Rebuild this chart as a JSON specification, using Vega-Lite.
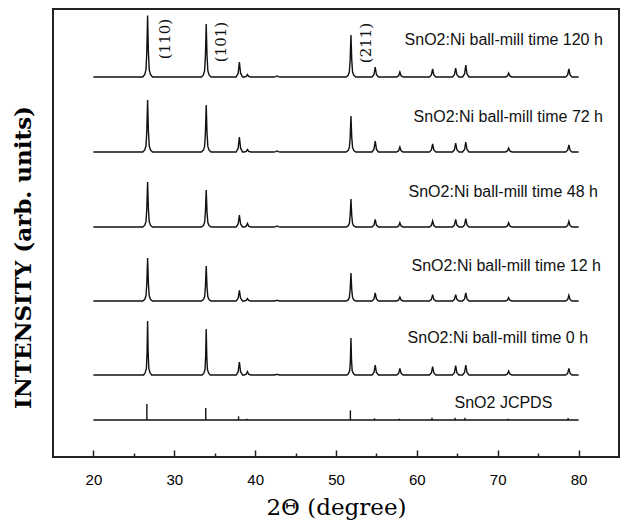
{
  "$schema": "https://vega.github.io/schema/vega-lite/v6.json",
  "autosize": {"type": "none"},
  "padding": {"left": 53, "top": 9, "right": 4, "bottom": 67},
  "width": 566,
  "height": 448,
  "background": "white",
  "config": {"view": {"stroke": "#222", "strokeWidth": 2}},
  "datasets": {
    "xrd": [
      {"s":"120","x":20,"y":380},
      {"s":"120","x":26.1,"y":380},{"s":"120","x":26.35,"y":382.5},{"s":"120","x":26.5,"y":387.4},{"s":"120","x":26.6,"y":404.6},{"s":"120","x":26.7,"y":441.5},{"s":"120","x":26.8,"y":404.6},{"s":"120","x":26.9,"y":387.4},{"s":"120","x":27.05,"y":382.5},{"s":"120","x":27.3,"y":380},
      {"s":"120","x":33.35,"y":380},{"s":"120","x":33.6,"y":382.1},{"s":"120","x":33.75,"y":386.4},{"s":"120","x":33.85,"y":401.2},{"s":"120","x":33.95,"y":433},{"s":"120","x":34.05,"y":401.2},{"s":"120","x":34.15,"y":386.4},{"s":"120","x":34.3,"y":382.1},{"s":"120","x":34.55,"y":380},
      {"s":"120","x":37.65,"y":380},{"s":"120","x":37.9,"y":383.8},{"s":"120","x":38.05,"y":395},{"s":"120","x":38.2,"y":383.8},{"s":"120","x":38.45,"y":380},
      {"s":"120","x":38.65,"y":380},{"s":"120","x":38.9,"y":380.6},{"s":"120","x":39.05,"y":382.5},{"s":"120","x":39.2,"y":380.6},{"s":"120","x":39.45,"y":380},
      {"s":"120","x":42.3,"y":380},{"s":"120","x":42.55,"y":380.3},{"s":"120","x":42.7,"y":381},{"s":"120","x":42.85,"y":380.3},{"s":"120","x":43.1,"y":380},
      {"s":"120","x":51.25,"y":380},{"s":"120","x":51.5,"y":381.7},{"s":"120","x":51.65,"y":385},{"s":"120","x":51.75,"y":396.8},{"s":"120","x":51.85,"y":422},{"s":"120","x":51.95,"y":396.8},{"s":"120","x":52.05,"y":385},{"s":"120","x":52.2,"y":381.7},{"s":"120","x":52.45,"y":380},
      {"s":"120","x":54.45,"y":380},{"s":"120","x":54.7,"y":382.5},{"s":"120","x":54.85,"y":390},{"s":"120","x":55.0,"y":382.5},{"s":"120","x":55.25,"y":380},
      {"s":"120","x":57.5,"y":380},{"s":"120","x":57.75,"y":381.3},{"s":"120","x":57.9,"y":385},{"s":"120","x":58.05,"y":381.3},{"s":"120","x":58.3,"y":380},
      {"s":"120","x":61.55,"y":380},{"s":"120","x":61.8,"y":382},{"s":"120","x":61.95,"y":388},{"s":"120","x":62.1,"y":382},{"s":"120","x":62.35,"y":380},
      {"s":"120","x":64.4,"y":380},{"s":"120","x":64.65,"y":382.3},{"s":"120","x":64.8,"y":389},{"s":"120","x":64.95,"y":382.3},{"s":"120","x":65.2,"y":380},
      {"s":"120","x":65.65,"y":380},{"s":"120","x":65.9,"y":383},{"s":"120","x":66.05,"y":392},{"s":"120","x":66.2,"y":383},{"s":"120","x":66.45,"y":380},
      {"s":"120","x":70.95,"y":380},{"s":"120","x":71.2,"y":381},{"s":"120","x":71.35,"y":384},{"s":"120","x":71.5,"y":381},{"s":"120","x":71.75,"y":380},
      {"s":"120","x":78.4,"y":380},{"s":"120","x":78.65,"y":382},{"s":"120","x":78.8,"y":388},{"s":"120","x":78.95,"y":382},{"s":"120","x":79.2,"y":380},
      {"s":"120","x":80,"y":380},

      {"s":"72","x":20,"y":305},
      {"s":"72","x":26.1,"y":305},{"s":"72","x":26.35,"y":307.1},{"s":"72","x":26.5,"y":311.2},{"s":"72","x":26.6,"y":325.8},{"s":"72","x":26.7,"y":357},{"s":"72","x":26.8,"y":325.8},{"s":"72","x":26.9,"y":311.2},{"s":"72","x":27.05,"y":307.1},{"s":"72","x":27.3,"y":305},
      {"s":"72","x":33.35,"y":305},{"s":"72","x":33.6,"y":306.9},{"s":"72","x":33.75,"y":310.6},{"s":"72","x":33.85,"y":323.8},{"s":"72","x":33.95,"y":352},{"s":"72","x":34.05,"y":323.8},{"s":"72","x":34.15,"y":310.6},{"s":"72","x":34.3,"y":306.9},{"s":"72","x":34.55,"y":305},
      {"s":"72","x":37.65,"y":305},{"s":"72","x":37.9,"y":308.8},{"s":"72","x":38.05,"y":320},{"s":"72","x":38.2,"y":308.8},{"s":"72","x":38.45,"y":305},
      {"s":"72","x":38.65,"y":305},{"s":"72","x":38.9,"y":305.6},{"s":"72","x":39.05,"y":307.5},{"s":"72","x":39.2,"y":305.6},{"s":"72","x":39.45,"y":305},
      {"s":"72","x":42.3,"y":305},{"s":"72","x":42.55,"y":305.3},{"s":"72","x":42.7,"y":306},{"s":"72","x":42.85,"y":305.3},{"s":"72","x":43.1,"y":305},
      {"s":"72","x":51.25,"y":305},{"s":"72","x":51.5,"y":306.4},{"s":"72","x":51.65,"y":309.3},{"s":"72","x":51.75,"y":319.4},{"s":"72","x":51.85,"y":341},{"s":"72","x":51.95,"y":319.4},{"s":"72","x":52.05,"y":309.3},{"s":"72","x":52.2,"y":306.4},{"s":"72","x":52.45,"y":305},
      {"s":"72","x":54.45,"y":305},{"s":"72","x":54.7,"y":307.8},{"s":"72","x":54.85,"y":316},{"s":"72","x":55.0,"y":307.8},{"s":"72","x":55.25,"y":305},
      {"s":"72","x":57.5,"y":305},{"s":"72","x":57.75,"y":306.3},{"s":"72","x":57.9,"y":310},{"s":"72","x":58.05,"y":306.3},{"s":"72","x":58.3,"y":305},
      {"s":"72","x":61.55,"y":305},{"s":"72","x":61.8,"y":307},{"s":"72","x":61.95,"y":313},{"s":"72","x":62.1,"y":307},{"s":"72","x":62.35,"y":305},
      {"s":"72","x":64.4,"y":305},{"s":"72","x":64.65,"y":307.3},{"s":"72","x":64.8,"y":314},{"s":"72","x":64.95,"y":307.3},{"s":"72","x":65.2,"y":305},
      {"s":"72","x":65.65,"y":305},{"s":"72","x":65.9,"y":307.5},{"s":"72","x":66.05,"y":315},{"s":"72","x":66.2,"y":307.5},{"s":"72","x":66.45,"y":305},
      {"s":"72","x":70.95,"y":305},{"s":"72","x":71.2,"y":306},{"s":"72","x":71.35,"y":309},{"s":"72","x":71.5,"y":306},{"s":"72","x":71.75,"y":305},
      {"s":"72","x":78.4,"y":305},{"s":"72","x":78.65,"y":306.8},{"s":"72","x":78.8,"y":312},{"s":"72","x":78.95,"y":306.8},{"s":"72","x":79.2,"y":305},
      {"s":"72","x":80,"y":305},

      {"s":"48","x":20,"y":230},
      {"s":"48","x":26.1,"y":230},{"s":"48","x":26.35,"y":231.8},{"s":"48","x":26.5,"y":235.4},{"s":"48","x":26.6,"y":248},{"s":"48","x":26.7,"y":275},{"s":"48","x":26.8,"y":248},{"s":"48","x":26.9,"y":235.4},{"s":"48","x":27.05,"y":231.8},{"s":"48","x":27.3,"y":230},
      {"s":"48","x":33.35,"y":230},{"s":"48","x":33.6,"y":231.5},{"s":"48","x":33.75,"y":234.4},{"s":"48","x":33.85,"y":244.8},{"s":"48","x":33.95,"y":267},{"s":"48","x":34.05,"y":244.8},{"s":"48","x":34.15,"y":234.4},{"s":"48","x":34.3,"y":231.5},{"s":"48","x":34.55,"y":230},
      {"s":"48","x":37.65,"y":230},{"s":"48","x":37.9,"y":233},{"s":"48","x":38.05,"y":242},{"s":"48","x":38.2,"y":233},{"s":"48","x":38.45,"y":230},
      {"s":"48","x":38.65,"y":230},{"s":"48","x":38.9,"y":230.9},{"s":"48","x":39.05,"y":233.5},{"s":"48","x":39.2,"y":230.9},{"s":"48","x":39.45,"y":230},
      {"s":"48","x":42.3,"y":230},{"s":"48","x":42.55,"y":230.3},{"s":"48","x":42.7,"y":231},{"s":"48","x":42.85,"y":230.3},{"s":"48","x":43.1,"y":230},
      {"s":"48","x":51.25,"y":230},{"s":"48","x":51.5,"y":231.1},{"s":"48","x":51.65,"y":233.4},{"s":"48","x":51.75,"y":241.2},{"s":"48","x":51.85,"y":258},{"s":"48","x":51.95,"y":241.2},{"s":"48","x":52.05,"y":233.4},{"s":"48","x":52.2,"y":231.1},{"s":"48","x":52.45,"y":230},
      {"s":"48","x":54.45,"y":230},{"s":"48","x":54.7,"y":231.9},{"s":"48","x":54.85,"y":237.7},{"s":"48","x":55.0,"y":231.9},{"s":"48","x":55.25,"y":230},
      {"s":"48","x":57.5,"y":230},{"s":"48","x":57.75,"y":231.1},{"s":"48","x":57.9,"y":234.3},{"s":"48","x":58.05,"y":231.1},{"s":"48","x":58.3,"y":230},
      {"s":"48","x":61.55,"y":230},{"s":"48","x":61.8,"y":231.5},{"s":"48","x":61.95,"y":236},{"s":"48","x":62.1,"y":231.5},{"s":"48","x":62.35,"y":230},
      {"s":"48","x":64.4,"y":230},{"s":"48","x":64.65,"y":231.9},{"s":"48","x":64.8,"y":237.7},{"s":"48","x":64.95,"y":231.9},{"s":"48","x":65.2,"y":230},
      {"s":"48","x":65.65,"y":230},{"s":"48","x":65.9,"y":232.1},{"s":"48","x":66.05,"y":238.3},{"s":"48","x":66.2,"y":232.1},{"s":"48","x":66.45,"y":230},
      {"s":"48","x":70.95,"y":230},{"s":"48","x":71.2,"y":231.1},{"s":"48","x":71.35,"y":234.3},{"s":"48","x":71.5,"y":231.1},{"s":"48","x":71.75,"y":230},
      {"s":"48","x":78.4,"y":230},{"s":"48","x":78.65,"y":231.4},{"s":"48","x":78.8,"y":235.7},{"s":"48","x":78.95,"y":231.4},{"s":"48","x":79.2,"y":230},
      {"s":"48","x":80,"y":230},

      {"s":"12","x":20,"y":156},
      {"s":"12","x":26.1,"y":156},{"s":"12","x":26.35,"y":157.7},{"s":"12","x":26.5,"y":161.2},{"s":"12","x":26.6,"y":173.2},{"s":"12","x":26.7,"y":199},{"s":"12","x":26.8,"y":173.2},{"s":"12","x":26.9,"y":161.2},{"s":"12","x":27.05,"y":157.7},{"s":"12","x":27.3,"y":156},
      {"s":"12","x":33.35,"y":156},{"s":"12","x":33.6,"y":157.4},{"s":"12","x":33.75,"y":160.2},{"s":"12","x":33.85,"y":170},{"s":"12","x":33.95,"y":191},{"s":"12","x":34.05,"y":170},{"s":"12","x":34.15,"y":160.2},{"s":"12","x":34.3,"y":157.4},{"s":"12","x":34.55,"y":156},
      {"s":"12","x":37.65,"y":156},{"s":"12","x":37.9,"y":158.7},{"s":"12","x":38.05,"y":166.7},{"s":"12","x":38.2,"y":158.7},{"s":"12","x":38.45,"y":156},
      {"s":"12","x":38.65,"y":156},{"s":"12","x":38.9,"y":156.6},{"s":"12","x":39.05,"y":158.5},{"s":"12","x":39.2,"y":156.6},{"s":"12","x":39.45,"y":156},
      {"s":"12","x":42.3,"y":156},{"s":"12","x":42.55,"y":156.2},{"s":"12","x":42.7,"y":156.8},{"s":"12","x":42.85,"y":156.2},{"s":"12","x":43.1,"y":156},
      {"s":"12","x":51.25,"y":156},{"s":"12","x":51.5,"y":157.1},{"s":"12","x":51.65,"y":159.4},{"s":"12","x":51.75,"y":167.2},{"s":"12","x":51.85,"y":184},{"s":"12","x":51.95,"y":167.2},{"s":"12","x":52.05,"y":159.4},{"s":"12","x":52.2,"y":157.1},{"s":"12","x":52.45,"y":156},
      {"s":"12","x":54.45,"y":156},{"s":"12","x":54.7,"y":158},{"s":"12","x":54.85,"y":164},{"s":"12","x":55.0,"y":158},{"s":"12","x":55.25,"y":156},
      {"s":"12","x":57.5,"y":156},{"s":"12","x":57.75,"y":157},{"s":"12","x":57.9,"y":160},{"s":"12","x":58.05,"y":157},{"s":"12","x":58.3,"y":156},
      {"s":"12","x":61.55,"y":156},{"s":"12","x":61.8,"y":157.6},{"s":"12","x":61.95,"y":162.3},{"s":"12","x":62.1,"y":157.6},{"s":"12","x":62.35,"y":156},
      {"s":"12","x":64.4,"y":156},{"s":"12","x":64.65,"y":157.6},{"s":"12","x":64.8,"y":162.3},{"s":"12","x":64.95,"y":157.6},{"s":"12","x":65.2,"y":156},
      {"s":"12","x":65.65,"y":156},{"s":"12","x":65.9,"y":158},{"s":"12","x":66.05,"y":164},{"s":"12","x":66.2,"y":158},{"s":"12","x":66.45,"y":156},
      {"s":"12","x":70.95,"y":156},{"s":"12","x":71.2,"y":156.8},{"s":"12","x":71.35,"y":159.3},{"s":"12","x":71.5,"y":156.8},{"s":"12","x":71.75,"y":156},
      {"s":"12","x":78.4,"y":156},{"s":"12","x":78.65,"y":157.4},{"s":"12","x":78.8,"y":161.7},{"s":"12","x":78.95,"y":157.4},{"s":"12","x":79.2,"y":156},
      {"s":"12","x":80,"y":156},

      {"s":"0","x":20,"y":82},
      {"s":"0","x":26.2,"y":82},{"s":"0","x":26.4,"y":84.2},{"s":"0","x":26.55,"y":88.5},{"s":"0","x":26.63,"y":103.6},{"s":"0","x":26.7,"y":136},{"s":"0","x":26.77,"y":103.6},{"s":"0","x":26.85,"y":88.5},{"s":"0","x":27.0,"y":84.2},{"s":"0","x":27.2,"y":82},
      {"s":"0","x":33.45,"y":82},{"s":"0","x":33.65,"y":83.8},{"s":"0","x":33.8,"y":87.5},{"s":"0","x":33.88,"y":100.4},{"s":"0","x":33.95,"y":128},{"s":"0","x":34.02,"y":100.4},{"s":"0","x":34.1,"y":87.5},{"s":"0","x":34.25,"y":83.8},{"s":"0","x":34.45,"y":82},
      {"s":"0","x":37.65,"y":82},{"s":"0","x":37.9,"y":85.3},{"s":"0","x":38.05,"y":95},{"s":"0","x":38.2,"y":85.3},{"s":"0","x":38.45,"y":82},
      {"s":"0","x":38.65,"y":82},{"s":"0","x":38.9,"y":82.8},{"s":"0","x":39.05,"y":85.3},{"s":"0","x":39.2,"y":82.8},{"s":"0","x":39.45,"y":82},
      {"s":"0","x":42.3,"y":82},{"s":"0","x":42.55,"y":82.2},{"s":"0","x":42.7,"y":82.8},{"s":"0","x":42.85,"y":82.2},{"s":"0","x":43.1,"y":82},
      {"s":"0","x":51.35,"y":82},{"s":"0","x":51.55,"y":83.5},{"s":"0","x":51.7,"y":86.4},{"s":"0","x":51.78,"y":96.8},{"s":"0","x":51.85,"y":119},{"s":"0","x":51.92,"y":96.8},{"s":"0","x":52.0,"y":86.4},{"s":"0","x":52.15,"y":83.5},{"s":"0","x":52.35,"y":82},
      {"s":"0","x":54.45,"y":82},{"s":"0","x":54.7,"y":84.5},{"s":"0","x":54.85,"y":92},{"s":"0","x":55.0,"y":84.5},{"s":"0","x":55.25,"y":82},
      {"s":"0","x":57.5,"y":82},{"s":"0","x":57.75,"y":83.7},{"s":"0","x":57.9,"y":88.7},{"s":"0","x":58.05,"y":83.7},{"s":"0","x":58.3,"y":82},
      {"s":"0","x":61.55,"y":82},{"s":"0","x":61.8,"y":84.1},{"s":"0","x":61.95,"y":90.3},{"s":"0","x":62.1,"y":84.1},{"s":"0","x":62.35,"y":82},
      {"s":"0","x":64.4,"y":82},{"s":"0","x":64.65,"y":84.3},{"s":"0","x":64.8,"y":91.3},{"s":"0","x":64.95,"y":84.3},{"s":"0","x":65.2,"y":82},
      {"s":"0","x":65.65,"y":82},{"s":"0","x":65.9,"y":84.5},{"s":"0","x":66.05,"y":92},{"s":"0","x":66.2,"y":84.5},{"s":"0","x":66.45,"y":82},
      {"s":"0","x":70.95,"y":82},{"s":"0","x":71.2,"y":83},{"s":"0","x":71.35,"y":86},{"s":"0","x":71.5,"y":83},{"s":"0","x":71.75,"y":82},
      {"s":"0","x":78.4,"y":82},{"s":"0","x":78.65,"y":83.7},{"s":"0","x":78.8,"y":88.7},{"s":"0","x":78.95,"y":83.7},{"s":"0","x":79.2,"y":82},
      {"s":"0","x":80,"y":82}
    ],
    "jcpds": [
      {"x":20,"x2":80,"y":37,"y2":37},
      {"x":26.61,"x2":26.61,"y":37,"y2":53},
      {"x":33.89,"x2":33.89,"y":37,"y2":49},
      {"x":37.95,"x2":37.95,"y":37,"y2":40.7},
      {"x":38.97,"x2":38.97,"y":37,"y2":38.3},
      {"x":51.78,"x2":51.78,"y":37,"y2":46.7},
      {"x":54.76,"x2":54.76,"y":37,"y2":38.7},
      {"x":57.82,"x2":57.82,"y":37,"y2":38.3},
      {"x":61.87,"x2":61.87,"y":37,"y2":39.3},
      {"x":64.72,"x2":64.72,"y":37,"y2":39.3},
      {"x":65.94,"x2":65.94,"y":37,"y2":39.3},
      {"x":71.28,"x2":71.28,"y":37,"y2":38.3},
      {"x":78.71,"x2":78.71,"y":37,"y2":39}
    ],
    "labels": [
      {"x":58.48,"y":417,"t":"SnO2:Ni ball-mill time 120 h"},
      {"x":59.6,"y":340,"t":"SnO2:Ni ball-mill time 72 h"},
      {"x":58.97,"y":265,"t":"SnO2:Ni ball-mill time 48 h"},
      {"x":59.34,"y":191,"t":"SnO2:Ni ball-mill time 12 h"},
      {"x":58.85,"y":119,"t":"SnO2:Ni ball-mill time 0 h"},
      {"x":64.66,"y":54,"t":"SnO2 JCPDS"}
    ],
    "hkl": [
      {"x":28.9,"y":418,"t":"(110)"},
      {"x":35.8,"y":415,"t":"(101)"},
      {"x":53.75,"y":414,"t":"(211)"}
    ]
  },
  "encoding": {
    "x": {
      "field": "x", "type": "quantitative",
      "scale": {"domain": [15, 85], "nice": false, "zero": false},
      "axis": {
        "title": "2Θ (degree)",
        "titleFont": "DejaVu Serif", "titleFontSize": 23, "titleFontWeight": "normal", "titleColor": "black",
        "titleY": 57, "titleBaseline": "alphabetic",
        "values": [20,25,30,35,40,45,50,55,60,65,70,75,80],
        "labelExpr": "datum.value % 10 === 0 ? datum.label : ''",
        "labelFont": "Liberation Sans", "labelFontSize": 15, "labelColor": "black",
        "labelPadding": 22,
        "tickSize": {"condition": {"test": "datum.value % 10 !== 0", "value": -4}, "value": -7},
        "tickColor": "#222", "tickWidth": 1.5,
        "domain": false, "grid": false
      }
    },
    "y": {
      "field": "y", "type": "quantitative",
      "scale": {"domain": [0, 448], "nice": false, "zero": false},
      "axis": {
        "title": "INTENSITY (arb. units)",
        "titleFont": "DejaVu Serif", "titleFontSize": 23, "titleFontWeight": "bold", "titleColor": "black",
        "titleAngle": 270, "titleX": -30, "titleY": 248, "titleAlign": "center", "titleBaseline": "middle",
        "ticks": false, "labels": false, "domain": false, "grid": false
      }
    }
  },
  "layer": [
    {
      "data": {"name": "xrd"},
      "mark": {"type": "line", "color": "#111", "strokeWidth": 1.4, "interpolate": "linear"},
      "encoding": {"detail": {"field": "s"}}
    },
    {
      "data": {"name": "jcpds"},
      "mark": {"type": "rule", "color": "#111", "strokeWidth": 1.4},
      "encoding": {
        "x2": {"field": "x2"},
        "y2": {"field": "y2"}
      }
    },
    {
      "data": {"name": "labels"},
      "mark": {"type": "text", "align": "left", "baseline": "middle", "font": "Liberation Sans", "fontSize": 16, "color": "#111"},
      "encoding": {"text": {"field": "t"}}
    },
    {
      "data": {"name": "hkl"},
      "mark": {"type": "text", "align": "center", "baseline": "middle", "angle": 270, "font": "DejaVu Serif", "fontSize": 15, "color": "#111"},
      "encoding": {"text": {"field": "t"}}
    }
  ]
}
